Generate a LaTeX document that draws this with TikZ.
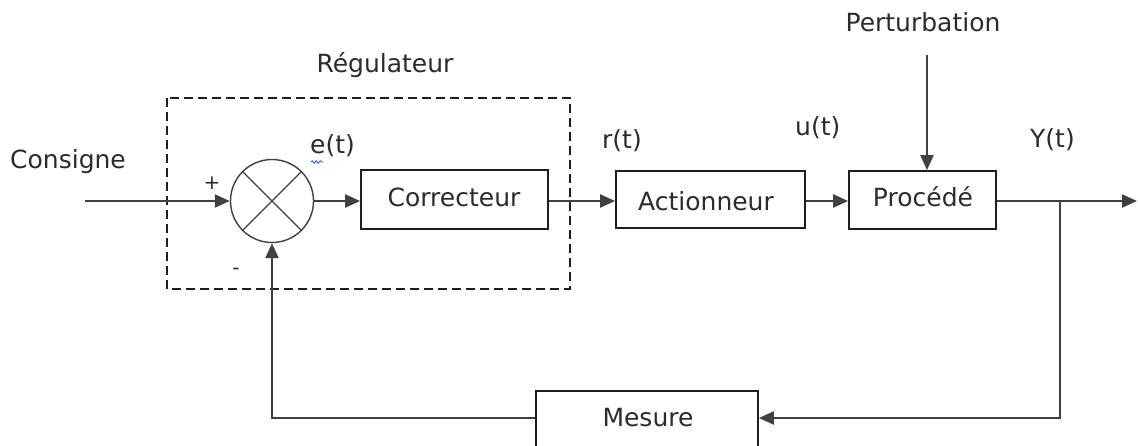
\documentclass[tikz,border=0pt]{standalone}
\usepackage{fontspec}
\setmainfont{DejaVu Sans}
\usetikzlibrary{arrows.meta,decorations.pathmorphing}
\definecolor{inkline}{HTML}{404040}
\definecolor{inkbox}{HTML}{1E1E1E}
\definecolor{inktext}{HTML}{2B2B2B}
\definecolor{squiggle}{HTML}{3A6FE0}
\begin{document}
\begin{tikzpicture}[x=1pt,y=-1pt,
  every node/.style={text=inktext,font=\fontsize{25}{30}\selectfont},
  blockbox/.style={draw=inkbox,line width=1.8pt,inner sep=0pt},
  sumnode/.style={draw=inkline,line width=1.4pt,circle,minimum size=83pt,inner sep=0pt},
  wire/.style={draw=inkline,line width=2.2pt},
  flow/.style={wire,-{Triangle[length=15pt,width=13pt]}},
  lbl/.style={anchor=base west,inner sep=0pt},
  sign/.style={inner sep=0pt,font=\fontsize{20}{24}\selectfont}]
\useasboundingbox (0,0) rectangle (1138,446);

% controller frame
\draw[inkbox,line width=1.6pt,dash pattern=on 9pt off 5pt] (167,98) rectangle (570,289);
\node[anchor=base,inner sep=0pt] (reg) at (385,73) {Régulateur};

% summing junction
\node[sumnode] (sum) at (272,201) {};
\draw[inkline,line width=1.2pt] (sum.north west) -- (sum.south east)
                               (sum.north east) -- (sum.south west);

% blocks
\node[blockbox,minimum width=187pt,minimum height=59pt] (corr) at (454.5,199.5) {};
\node at (454,197) {Correcteur};
\node[blockbox,minimum width=189pt,minimum height=57pt] (act) at (710.5,199.5) {};
\node at (706,201) {Actionneur};
\node[blockbox,minimum width=147pt,minimum height=58pt] (proc) at (922.5,200) {};
\node at (923,197) {Procédé};
\node[blockbox,minimum width=222pt,minimum height=58pt] (mes) at (647,420) {};
\node at (648,418) {Mesure};

% input
\coordinate (cin) at (85,201);
\node[lbl] (cons) at (10,169) {Consigne};
\draw[flow] (cin) -- (sum.west);
\node[sign] (plus) at (212,183) {+};
\node[sign] (minus) at (236,271) {-};

% forward path
\draw[flow] (sum.east) -- (corr.west |- sum.east);
\draw[flow] (corr.east |- sum.east) -- (act.west |- sum.east);
\draw[flow] (act.east |- sum.east) -- (proc.west |- sum.east);
\node[lbl] (et) at (310,154) {e(t)};
\draw[squiggle,line width=1pt,decorate,decoration={snake,amplitude=1.2pt,segment length=4pt}] (311,162) -- (323,162);
\node[lbl] (rt) at (602,149) {r(t)};
\node[lbl] (ut) at (795,136) {u(t)};

% disturbance
\node[anchor=base,inner sep=0pt] (pert) at (923,32) {Perturbation};
\coordinate (ptop) at (927,55);
\draw[flow] (ptop) -- (ptop |- proc.north);

% output and feedback
\coordinate (yout) at (1137,201);
\coordinate (branch) at (1060,201);
\coordinate (fbr) at (1060,418);
\coordinate (fbl) at (272,418);
\node[lbl] (yt) at (1030,148) {Y(t)};
\draw[flow] (proc.east |- yout) -- (yout);
\draw[flow] (branch) -- (fbr) -- (mes.east |- fbr);
\draw[flow] (mes.west |- fbl) -- (fbl) -- (sum.south);
\end{tikzpicture}
\end{document}
